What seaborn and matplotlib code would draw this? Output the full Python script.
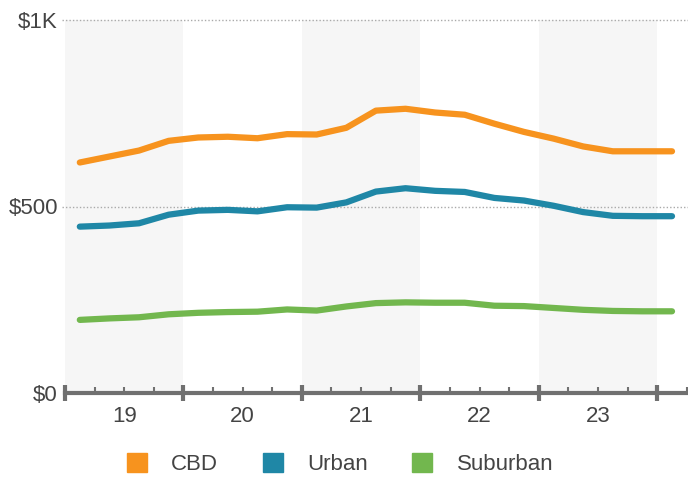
import matplotlib
matplotlib.use("Agg")
import matplotlib.pyplot as plt
import matplotlib.patches as mpatches
import matplotlib.transforms as mtransforms
import seaborn as sns
import pandas as pd
import numpy as np

# quarterly values, 2019 Q1 .. 2024 Q1
periods = [f"{y}Q{q}" for y in range(2019, 2024) for q in range(1, 5)] + ["2024Q1"]
cbd = [618, 634, 650, 676, 685, 687, 683, 694, 693, 711, 757, 762,
       752, 746, 722, 700, 682, 661, 648, 648, 648]
urban = [446, 449, 455, 478, 489, 491, 487, 498, 497, 511, 540, 549,
         542, 539, 523, 516, 502, 485, 475, 474, 474]
suburban = [196, 200, 203, 211, 215, 217, 218, 224, 221, 232, 241, 243,
            242, 242, 234, 233, 228, 223, 220, 219, 219]
series_names = ["CBD", "Urban", "Suburban"]
year_labels = ["19", "20", "21", "22", "23"]
y_ticks = [0, 500, 1000]
y_ticklabels = ["$0", "$500", "$1K"]

colors = {"CBD": "#F7931E", "Urban": "#1F87A6", "Suburban": "#72B74E"}
TEXT = "#444444"
AXIS = "#707070"
FS = 16

# place each quarter in the middle of its slot
pos = [int(p[:4]) + (int(p[-1]) - 0.5) / 4 for p in periods]
df = pd.DataFrame({"period": pos * 3,
                   "value": cbd + urban + suburban,
                   "segment": np.repeat(series_names, len(periods))})

sns.set_style("white")
plt.rcParams["font.family"] = ["Liberation Sans", "DejaVu Sans"]

fig = plt.figure(figsize=(6.88, 4.79), dpi=100)
ax = fig.add_axes([65 / 688, 86 / 479, 623 / 688, 373 / 479])

# alternating year bands
for start in (2019, 2021, 2023):
    ax.axvspan(start, start + 1, color="#F6F6F6", zorder=0, lw=0)

for yv in (500, 1000):
    ax.axhline(yv, xmin=-0.005, xmax=1, color="#AAAAAA", lw=1,
               ls=(0, (1, 1.5)), clip_on=False, zorder=1)

sns.lineplot(data=df, x="period", y="value", hue="segment",
             palette=colors, hue_order=series_names, lw=4.5,
             legend=False, ax=ax, zorder=3,
             solid_capstyle="round", solid_joinstyle="round")

ax.set_xlim(2019, 2024.26)
ax.set_ylim(0, 1000)
ax.set_xlabel("")
ax.set_ylabel("")

for s in ("top", "right", "left"):
    ax.spines[s].set_visible(False)
ax.spines["bottom"].set_color(AXIS)
ax.spines["bottom"].set_linewidth(3)
ax.spines["bottom"].set_zorder(4)

ax.set_yticks(y_ticks)
ax.set_yticklabels(y_ticklabels)
ax.tick_params(axis="y", length=0, pad=5, labelsize=FS, labelcolor=TEXT)

ax.set_xticks(range(2019, 2025))
ax.set_xticklabels([])
ax.set_xticks([y + q / 4 for y in range(2019, 2024) for q in range(1, 4)] +
              [2024.25], minor=True)
ax.tick_params(axis="x", which="major", bottom=True, direction="inout",
               length=12, width=3, color=AXIS)
ax.tick_params(axis="x", which="minor", bottom=True, direction="in",
               length=4.5, width=1.5, color=AXIS)

trans = mtransforms.blended_transform_factory(ax.transData, ax.transAxes)
for i, lab in enumerate(year_labels):
    ax.text(2019.5 + i, -0.064, lab, transform=trans, ha="center", va="center",
            fontsize=FS, color=TEXT)

handles = [mpatches.Patch(color=colors[n], label=n) for n in series_names]
fig.legend(handles=handles, loc="center", bbox_to_anchor=(340 / 688, 15 / 479),
           ncol=3, frameon=False, fontsize=FS, handlelength=0.9,
           handleheight=0.9, handletextpad=1.1, columnspacing=2.0,
           labelcolor=TEXT)

fig.savefig("out.png", dpi=100)
